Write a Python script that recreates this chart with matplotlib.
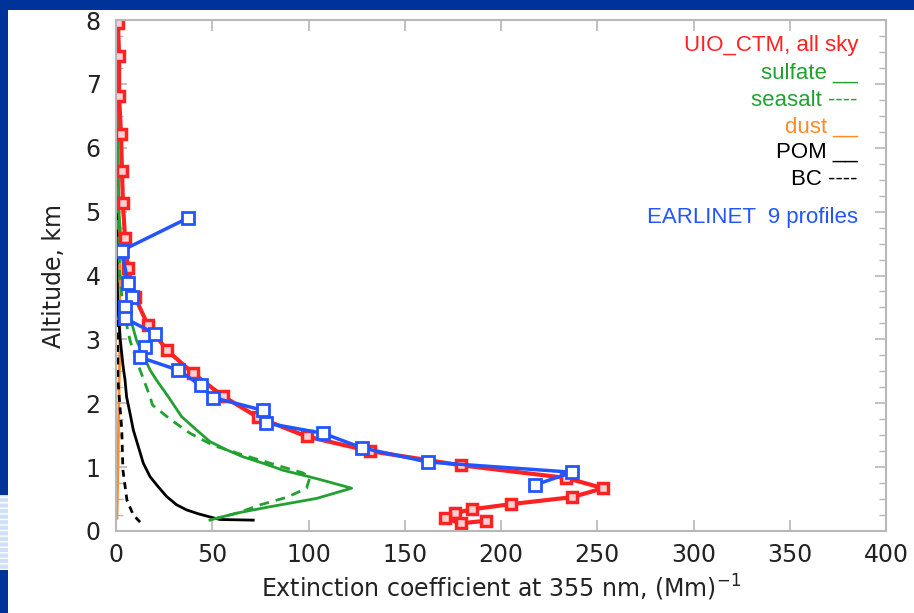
import numpy as np
import matplotlib
matplotlib.use("Agg")
import matplotlib.pyplot as plt
from matplotlib.patches import Rectangle

# UIO_CTM all sky profile (extinction, altitude)
ctm_ext = [1.0, 1.6, 1.6, 2.6, 3.1, 3.6, 4.7, 6.2, 9.9, 16.6, 26.5, 40.0, 55.6, 73.7, 99.0,
           132.0, 179.0, 234.0, 253.0, 237.0, 205.0, 185.0, 176.0, 171.0, 179.0, 192.0]
ctm_alt = [7.95, 7.44, 6.81, 6.22, 5.64, 5.13, 4.58, 4.11, 3.66, 3.22, 2.83, 2.47, 2.11, 1.78, 1.48,
           1.25, 1.03, 0.83, 0.67, 0.53, 0.42, 0.34, 0.28, 0.20, 0.12, 0.16]

# EARLINET mean of 9 profiles
earl_ext = [37.4, 3.0, 6.2, 8.3, 4.7, 4.7, 20.2, 15.1, 12.5, 32.2, 44.0, 50.4, 76.3, 78.0,
            107.5, 128.0, 162.0, 237.0, 217.5]
earl_alt = [4.90, 4.39, 3.88, 3.67, 3.50, 3.33, 3.09, 2.88, 2.72, 2.52, 2.28, 2.09, 1.89, 1.69,
            1.53, 1.30, 1.08, 0.92, 0.72]

# components
sulf_ext = [0.5, 1.0, 1.5, 3.0, 4.7, 6.4, 10.7, 17.7, 21.1, 27.2, 34.1, 41.9, 48.8, 57.5, 66.1,
            76.5, 86.9, 104.2, 122.4, 104.2, 80.0, 62.7, 52.3, 48.8]
sulf_alt = [8.0, 6.0, 5.0, 4.39, 3.97, 3.45, 2.98, 2.52, 2.36, 2.10, 1.79, 1.58, 1.40, 1.27, 1.16,
            1.06, 0.95, 0.82, 0.67, 0.51, 0.38, 0.28, 0.20, 0.17]

salt_ext = [0.5, 1.0, 2.0, 3.6, 7.3, 12.5, 17.7, 19.0, 29.0, 38.5, 50.5, 66.0, 83.5, 97.0,
            100.7, 99.0, 89.0, 75.0, 63.0, 52.5]
salt_alt = [8.0, 5.0, 4.0, 3.5, 2.98, 2.52, 2.1, 1.97, 1.73, 1.53, 1.34, 1.19, 1.03, 0.91,
            0.84, 0.67, 0.53, 0.41, 0.28, 0.20]

dust_ext = [0.5, 1.0, 2.0, 2.0, 1.5, 1.0, 0.5]
dust_alt = [8.0, 6.0, 4.0, 3.0, 2.0, 1.0, 0.2]

pom_ext = [0.3, 0.5, 1.0, 2.2, 3.6, 4.7, 5.5, 7.3, 9.0, 11.6, 14.2, 17.7, 22.0, 26.3, 31.5,
           36.7, 42.7, 48.8, 54.0, 71.3]
pom_alt = [8.0, 4.0, 3.5, 3.0, 2.6, 2.36, 2.10, 1.84, 1.58, 1.32, 1.06, 0.85, 0.69, 0.54, 0.41,
           0.33, 0.27, 0.22, 0.18, 0.17]

bc_ext = [0.3, 0.5, 1.0, 3.0, 3.6, 5.7, 9.0, 12.5]
bc_alt = [8.0, 4.0, 2.36, 1.58, 0.95, 0.48, 0.25, 0.14]

legend_txt = ["UIO_CTM, all sky", "sulfate __", "seasalt ----", "dust __", "POM __", "BC ----",
              "EARLINET  9 profiles"]

RED = "#ff2222"
BLUE = "#2255ff"
GREEN = "#22a030"
ORANGE = "#ff8a2a"
SLIDE = "#003399"

fig = plt.figure(figsize=(9.14, 6.13), dpi=100, facecolor=SLIDE)
# white slide area + striped corner
fig.patches.append(Rectangle((8 / 914, 0), 1, 1 - 10 / 613, transform=fig.transFigure,
                             facecolor="white", edgecolor="none", zorder=-5))
fig.patches.append(Rectangle((0, 1 - 570 / 613), 8 / 914, 75 / 613, transform=fig.transFigure,
                             facecolor="#cfe0f8", edgecolor="white", hatch="---", lw=0, zorder=-5))

ax = fig.add_axes([116 / 914, 1 - 531 / 613, 770 / 914, 511 / 613])
ax.set_facecolor("white")

ax.plot(dust_ext, dust_alt, color=ORANGE, lw=2)
ax.plot(bc_ext, bc_alt, color="black", lw=2, ls=(0, (2.5, 2)))
ax.plot(pom_ext, pom_alt, color="black", lw=2)
ax.plot(salt_ext, salt_alt, color=GREEN, lw=2, ls=(0, (3.5, 2.5)))
ax.plot(sulf_ext, sulf_alt, color=GREEN, lw=2)
ax.plot(ctm_ext, ctm_alt, color=RED, lw=3, marker="s", ms=7, mfc="#ffd0d0", mec=RED, mew=2.5)
ax.plot(earl_ext, earl_alt, color=BLUE, lw=2.5, marker="s", ms=8, mfc="white", mec=BLUE, mew=2)

ax.set_xlim(0, 400)
ax.set_ylim(0, 8)
ax.set_xticks(np.arange(0, 401, 50))
ax.set_yticks(np.arange(0, 9, 1))
ax.set_yticks(np.arange(0, 8.01, 0.25), minor=True)

for s in ax.spines.values():
    s.set_color("#b8b8b8")
    s.set_linewidth(1.5)
ax.tick_params(which="both", direction="in", top=True, right=True, color="#b8b8b8")
ax.tick_params(which="major", length=8, width=1.2)
ax.tick_params(which="minor", length=5, width=1)
ax.tick_params(axis="x", labelsize=17, pad=9, labelcolor="#222222")
ax.tick_params(axis="y", labelsize=17, pad=11, labelcolor="#222222")

ax.set_xlabel("Extinction coefficient at 355 nm, (Mm)$^{-1}$", fontsize=17, color="#222222", labelpad=4)
ax.set_ylabel("Altitude, km", fontsize=17, color="#222222", labelpad=14)

colors = [RED, GREEN, GREEN, ORANGE, "black", "black", BLUE]
ypos = [0.951, 0.896, 0.843, 0.791, 0.742, 0.687, 0.613]
for t, c, y in zip(legend_txt, colors, ypos):
    ax.text(0.9636, y, t, color=c, ha="right", va="center", fontsize=16,
            family="Liberation Sans", transform=ax.transAxes)

fig.savefig("out.png", dpi=100, facecolor=SLIDE)
